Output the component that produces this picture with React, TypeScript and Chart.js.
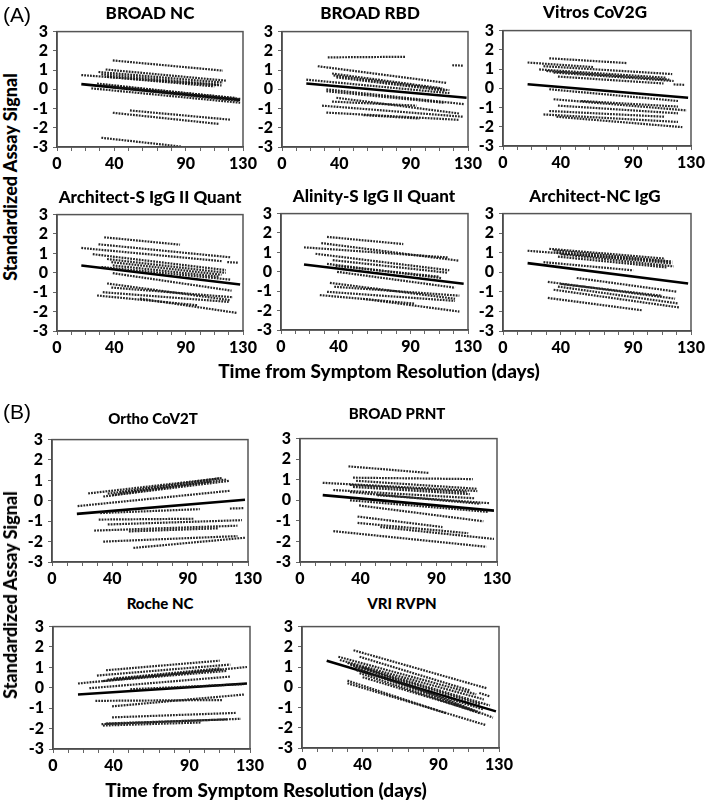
import React, { useEffect, useRef } from "react";
import { Chart, registerables } from "chart.js";
Chart.register(...registerables);

// ---------- DATA ----------
const xTickLabels = [0, 40, 90, 130];
const xMin = 0;
const xMax = 130;
const yMin = -3;
const yMax = 3;

// each segment: [startDay, startSignal, endDay, endSignal]
const broadNcLines = [
  [39, 1.5, 116, 0.97], [34, 1.03, 118, 0.45], [29, 0.9, 116, 0.35], [31, 0.78, 113, 0.25],
  [17, 0.74, 115, 0.2], [35, 0.65, 110, 0.15], [28, 0.3, 128, -0.5], [32, 0.22, 125, -0.45],
  [24, 0.05, 128, -0.7], [39, 0.1, 127, -0.6], [51, -1.1, 121, -1.58], [39, -1.22, 113, -1.8],
  [31, -2.52, 87, -2.98],
];
const broadNcMean = [17, 0.27, 128, -0.55];

const broadRbdLines = [
  [32, 1.66, 86, 1.69], [119, 1.25, 127, 1.23], [25, 1.2, 115, 0.33], [35, 0.82, 112, 0.05],
  [36, 0.72, 117, -0.05], [38, 0.62, 114, -0.07], [17, 0.5, 117, -0.2], [31, 0.0, 127, -0.77],
  [31, -0.1, 113, -0.7], [38, -0.44, 124, -1.26], [35, -0.64, 94, -0.85], [28, -0.85, 127, -1.43],
  [31, -1.21, 124, -1.59], [57, -1.34, 96, -1.52],
];
const broadRbdMean = [17, 0.3, 129, -0.44];

const vitrosLines = [
  [32, 1.56, 86, 1.31], [17, 1.34, 63, 1.1], [28, 1.15, 117, 0.74], [25, 0.98, 113, 0.55],
  [30, 0.9, 115, 0.45], [35, 0.82, 118, 0.38], [38, 0.61, 111, 0.25], [118, 0.2, 126, 0.18],
  [32, -0.05, 121, -0.66], [35, -0.57, 127, -1.15], [38, -0.9, 121, -1.3], [54, -0.66, 121, -0.95],
  [32, -1.18, 112, -1.48], [28, -1.36, 121, -1.75], [37, -1.48, 124, -2.02],
];
const vitrosMean = [17, 0.21, 128, -0.49];

const architectSLines = [
  [33, 1.83, 86, 1.45], [29, 1.47, 121, 0.8], [17, 1.28, 115, 0.6], [25, 0.96, 118, 0.14],
  [35, 0.71, 118, 0.0], [38, 0.55, 115, -0.1], [31, 0.3, 121, -0.35], [39, 0.38, 113, -0.2],
  [119, 0.55, 127, 0.52], [39, -0.02, 122, -0.92], [35, -0.55, 121, -1.41], [38, -0.76, 123, -1.26],
  [32, -1.0, 120, -1.5], [28, -1.17, 98, -1.67], [58, -1.33, 126, -2.07],
];
const architectSMean = [17, 0.38, 128, -0.6];

const alinityLines = [
  [32, 1.8, 85, 1.43], [28, 1.48, 124, 0.57], [16, 1.26, 116, 0.74], [24, 0.93, 117, 0.08],
  [36, 0.6, 116, -0.05], [32, 0.41, 112, -0.33], [38, 0.3, 110, -0.25], [39, 0.0, 121, -0.82],
  [34, -0.57, 121, -1.39], [37, -0.77, 124, -1.23], [32, -1.03, 121, -1.5], [27, -1.2, 93, -1.64],
  [57, -1.39, 124, -2.05],
];
const alinityMean = [16, 0.38, 127, -0.62];

const architectNcLines = [
  [17, 1.1, 115, 0.55], [32, 1.2, 112, 0.7], [35, 1.12, 117, 0.55], [37, 1.0, 117, 0.45],
  [40, 0.92, 118, 0.3], [38, 0.8, 113, 0.25], [28, 0.52, 90, 0.1], [51, -0.29, 120, -0.99],
  [31, -0.49, 119, -1.35], [38, -0.73, 121, -1.59], [35, -0.89, 122, -1.8], [31, -1.31, 96, -1.94],
  [40, -0.6, 110, -1.2],
];
const architectNcMean = [17, 0.47, 128, -0.57];

const orthoLines = [
  [24, 0.36, 111, 1.1], [34, 0.21, 118, 0.98], [37, 0.35, 113, 1.12], [40, 0.28, 116, 1.05],
  [45, 0.4, 105, 0.95], [17, -0.26, 118, 0.49], [32, -0.6, 98, -0.41], [118, -0.38, 127, -0.36],
  [31, -0.92, 94, -0.88], [37, -1.16, 126, -0.95], [28, -1.46, 123, -1.22], [51, -1.5, 110, -1.35],
  [34, -2.0, 123, -1.73], [54, -2.31, 128, -1.81],
];
const orthoMean = [16.5, -0.64, 128, 0.05];

const prntLines = [
  [32, 1.65, 85, 1.33], [35, 1.1, 114, 1.03], [37, 0.95, 117, 0.56], [15, 0.85, 117, 0.45],
  [33, 0.75, 110, 0.4], [35, 0.65, 112, 0.3], [22, 0.5, 115, 0.1], [33, 0.4, 119, -0.17],
  [51, 0.25, 125, -0.14], [33, 0.0, 124, -0.56], [39, -0.25, 121, -1.02], [38, -0.79, 94, -1.3],
  [38, -1.1, 111, -1.6], [53, -1.3, 128, -1.88], [22, -1.5, 123, -2.26],
];
const prntMean = [15, 0.25, 128, -0.5];

const rocheLines = [
  [35, 0.86, 110, 1.33], [29, 0.6, 117, 1.14], [16.5, 0.21, 128, 1.02], [33, 0.33, 115, 0.83],
  [36, 0.4, 112, 0.9], [40, 0.45, 110, 0.95], [24, -0.02, 117, 0.55], [51, -0.07, 126, 0.18],
  [28, -0.64, 112, -0.6], [39, -0.91, 126, -0.33], [39, -1.45, 121, -1.23], [32, -1.78, 124, -1.52],
  [33, -1.85, 98, -1.7], [35, -1.75, 115, -1.55],
];
const rocheMean = [16.5, -0.33, 128, 0.21];

const vriLines = [
  [34, 1.83, 122, -0.05], [38, 1.51, 111, -0.16], [24, 1.51, 115, -0.35], [117, -0.28, 124, -0.45],
  [25, 1.35, 120, -0.6], [30, 1.2, 124, -0.9], [32, 1.1, 118, -0.85], [35, 0.98, 115, -1.2],
  [36, 0.85, 120, -1.1], [38, 0.7, 118, -1.3], [40, 0.5, 113, -1.15], [40, 1.0, 126, -1.5],
  [30, 0.33, 95, -1.28], [30, 0.2, 121, -1.86],
];
const vriMean = [16.3, 1.31, 128, -1.19];

// ---------- LAYOUT ----------
const panels = [
  { title: "BROAD NC", lines: broadNcLines, mean: broadNcMean, box: [57, 25, 243, 147], tp: [150, 12], ts: 17 },
  { title: "BROAD RBD", lines: broadRbdLines, mean: broadRbdMean, box: [282, 25, 468, 147], tp: [370, 12], ts: 17 },
  { title: "Vitros CoV2G", lines: vitrosLines, mean: vitrosMean, box: [503, 24, 691, 146], tp: [595, 11], ts: 17 },
  { title: "Architect-S IgG II Quant", lines: architectSLines, mean: architectSMean, box: [57, 208, 243, 331], tp: [150, 196], ts: 17 },
  { title: "Alinity-S IgG II Quant", lines: alinityLines, mean: alinityMean, box: [281, 207, 468, 330], tp: [374, 195], ts: 17 },
  { title: "Architect-NC IgG", lines: architectNcLines, mean: architectNcMean, box: [503, 207, 691, 331], tp: [595, 195], ts: 17 },
  { title: "Ortho CoV2T", lines: orthoLines, mean: orthoMean, box: [52, 433, 248, 562], tp: [153, 418], ts: 15 },
  { title: "BROAD PRNT", lines: prntLines, mean: prntMean, box: [300, 432, 497, 562], tp: [397, 413], ts: 15 },
  { title: "Roche NC", lines: rocheLines, mean: rocheMean, box: [53, 620, 250, 749], tp: [160, 603], ts: 15 },
  { title: "VRI RVPN", lines: vriLines, mean: vriMean, box: [302, 620, 499, 748], tp: [402, 603], ts: 15 },
];

const FONT = "Lato";
const YW = 34;
const XH = 30;
const PT = 8;
const PR = 18;

const boxPlugin = {
  id: "boxFrame",
  afterDraw(chart: any) {
    const { ctx, chartArea } = chart;
    const { left, top, right, bottom } = chartArea;
    ctx.save();
    ctx.strokeStyle = "#555";
    ctx.lineWidth = 1.5;
    ctx.strokeRect(left, top, right - left, bottom - top);
    ctx.restore();
  },
};

function Panel({ lines, mean, box }: { lines: number[][]; mean: number[]; box: number[] }) {
  const ref = useRef<HTMLCanvasElement>(null);
  const [L, T, R, B] = box;
  const w = YW + (R - L) + PR;
  const h = PT + (B - T) + XH;
  useEffect(() => {
    const datasets: any[] = lines.map((s) => ({
      data: [{ x: s[0], y: s[1] }, { x: s[2], y: s[3] }],
      borderColor: "rgba(25,25,25,0.95)",
      borderWidth: 2.2,
      borderDash: [1.8, 1.1],
      pointRadius: 0,
      fill: false,
      tension: 0,
    }));
    datasets.push({
      data: [{ x: mean[0], y: mean[1] }, { x: mean[2], y: mean[3] }],
      borderColor: "#000",
      borderWidth: 2.6,
      pointRadius: 0,
      fill: false,
    });
    const tickFont = { family: FONT, weight: 900, size: 16 };
    const chart = new Chart(ref.current as HTMLCanvasElement, {
      type: "line",
      data: { datasets },
      options: {
        animation: false,
        responsive: false,
        maintainAspectRatio: false,
        layout: { autoPadding: false, padding: { top: PT, right: PR, left: 0, bottom: 0 } } as any,
        plugins: { legend: { display: false }, tooltip: { enabled: false } },
        scales: {
          x: {
            type: "linear",
            min: xMin,
            max: xMax,
            afterFit: (s: any) => { s.height = XH; },
            ticks: {
              stepSize: 10,
              autoSkip: false,
              maxRotation: 0,
              padding: 3,
              color: "#000",
              font: tickFont,
              callback: (v: any) => (xTickLabels.includes(Number(v)) ? String(v) : ""),
            },
            grid: { drawOnChartArea: false, drawTicks: true, tickLength: 4, color: "#666" },
            border: { color: "#333", width: 1.5 },
          },
          y: {
            type: "linear",
            min: yMin,
            max: yMax,
            afterFit: (s: any) => { s.width = YW; },
            ticks: {
              stepSize: 1,
              autoSkip: false,
              padding: 5,
              color: "#000",
              font: tickFont,
            },
            grid: { drawOnChartArea: false, drawTicks: true, tickLength: 4, color: "#666" },
            border: { color: "#333", width: 1.5 },
          },
        },
      } as any,
      plugins: [boxPlugin],
    });
    return () => chart.destroy();
  }, []);
  return (
    <canvas
      ref={ref}
      width={w}
      height={h}
      style={{ position: "absolute", left: L - YW, top: T - PT, width: w, height: h }}
    />
  );
}

function Label({ text, x, y, size, bold = true, rotate = false, family = FONT }: any) {
  return (
    <div
      style={{
        position: "absolute",
        left: x,
        top: y,
        transform: `translate(-50%, -50%)${rotate ? " rotate(-90deg)" : ""}`,
        fontFamily: family,
        fontWeight: bold ? 900 : 400,
        fontSize: size,
        whiteSpace: "nowrap",
        color: "#000",
        lineHeight: 1,
      }}
    >
      {text}
    </div>
  );
}

export default function App() {
  return (
    <div style={{ position: "absolute", left: 0, top: 0, width: 709, height: 801, background: "#fff", overflow: "hidden" }}>
      {panels.map((p, i) => (
        <React.Fragment key={i}>
          <Panel lines={p.lines} mean={p.mean} box={p.box} />
          <Label text={p.title} x={p.tp[0]} y={p.tp[1]} size={p.ts} />
        </React.Fragment>
      ))}
      <Label text="(A)" x={17} y={14} size={21} bold={false} family="'Liberation Sans', Arial, sans-serif" />
      <Label text="(B)" x={17} y={411} size={21} bold={false} family="'Liberation Sans', Arial, sans-serif" />
      <Label text="Time from Symptom Resolution (days)" x={379} y={370} size={19} />
      <Label text="Time from Symptom Resolution (days)" x={266} y={789} size={19} />
      <Label text="Standardized Assay Signal" x={10} y={177} size={18} rotate />
      <Label text="Standardized Assay Signal" x={10} y={595} size={18} rotate />
    </div>
  );
}
